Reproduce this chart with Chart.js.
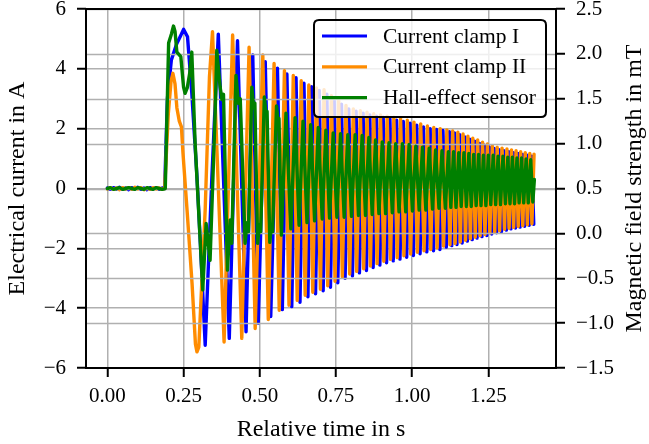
<!DOCTYPE html>
<html>
<head>
<meta charset="utf-8">
<script src="https://cdn.jsdelivr.net/npm/chart.js@4/dist/chart.umd.min.js"></script>
<style>html,body{margin:0;padding:0;background:#fff;}canvas{display:block;}</style>
</head>
<body>
<canvas id="c" width="649" height="444"></canvas>
<script>
// ---------- DATA ----------
const seriesLabels = ["Current clamp I", "Current clamp II", "Hall-effect sensor"];
const xTitle = "Relative time in s";
const yLeftTitle = "Electrical current in A";
const yRightTitle = "Magnetic field strength in mT";

const xTickValues = [0, 0.25, 0.5, 0.75, 1.0, 1.25];
const yLeftTickValues = [-6, -4, -2, 0, 2, 4, 6];
const yRightTickValues = [-1.5, -1.0, -0.5, 0, 0.5, 1.0, 1.5, 2.0, 2.5];

// Current clamp I (A) - time in s, extrema
const clamp1T = [0.000,0.010,0.020,0.030,0.040,0.050,0.060,0.070,0.080,0.090,0.100,0.110,0.120,0.130,0.140,0.150,0.160,0.170,0.180,0.188,
0.197,0.210,0.228,0.240,0.250,0.263,0.277,0.294,0.305,0.321,0.343,0.364,0.400,0.427,0.455,0.477,0.495,0.518,0.536,0.558,0.574,0.589,0.605,
0.619,0.632,0.645,0.658,0.670,0.683,0.695,0.708,0.720,0.732,0.744,0.756,0.768,0.780,0.792,0.804,0.816,0.827,0.839,0.850,0.861,0.872,
0.883,0.894,0.905,0.916,0.927,0.938,0.949,0.960,0.971,0.982,0.993,1.004,1.015,1.026,1.037,1.048,1.059,1.070,1.080,1.091,1.101,
1.112,1.122,1.130,1.139,1.147,1.156,1.164,1.173,1.181,1.189,1.197,1.205,1.213,1.221,1.229,1.237,1.245,1.253,1.261,1.269,1.277,
1.285,1.293,1.301,1.309,1.317,1.324,1.332,1.339,1.347,1.354,1.362,1.369,1.377,1.384,1.392,1.399];
const clamp1V = [0.02,-0.03,0.03,-0.02,0.04,-0.03,0.02,-0.04,0.03,-0.02,0.04,-0.03,0.02,-0.04,0.03,-0.02,0.03,-0.03,0.02,0.00,
3.00,4.30,4.85,5.10,5.32,5.07,3.20,0.40,-1.80,-5.24,0.39,5.16,-5.01,4.94,-4.79,4.46,-4.50,4.24,-4.28,4.02,-4.05,3.83,-3.95,
3.70,-3.80,3.52,-3.62,3.40,-3.52,3.28,-3.42,3.15,-3.30,2.98,-3.15,2.82,-3.00,2.66,-2.92,2.58,-2.82,2.52,-2.74,2.46,-2.64,
2.42,-2.56,2.38,-2.48,2.33,-2.42,2.28,-2.36,2.24,-2.30,2.18,-2.24,2.12,-2.18,2.06,-2.12,2.00,-2.08,1.97,-2.04,1.94,
-1.96,1.90,-1.91,1.86,-1.87,1.80,-1.82,1.72,-1.76,1.65,-1.71,1.58,-1.66,1.51,-1.61,1.45,-1.57,1.39,-1.52,1.34,-1.48,
1.30,-1.44,1.26,-1.39,1.23,-1.35,1.20,-1.32,1.17,-1.29,1.14,-1.26,1.11,-1.23,1.08,-1.20];

// Current clamp II (A)
const clamp2T = [0.000,0.010,0.020,0.030,0.040,0.050,0.060,0.070,0.080,0.090,0.100,0.110,0.120,0.130,0.140,0.150,0.160,0.170,0.180,0.188,
0.200,0.209,0.215,0.222,0.228,0.236,0.243,0.248,0.262,0.278,0.289,0.294,0.300,0.321,0.335,0.345,0.383,0.411,0.441,0.465,0.485,0.510,
0.528,0.547,0.564,0.581,0.596,0.610,0.623,0.636,0.649,0.661,0.674,0.686,0.699,0.711,0.723,0.735,0.747,0.759,0.771,0.783,0.795,0.807,
0.818,0.830,0.841,0.852,0.863,0.874,0.885,0.896,0.907,0.918,0.929,0.940,0.951,0.962,0.973,0.984,0.995,1.006,1.017,1.028,1.039,1.050,
1.061,1.071,1.082,1.092,1.103,1.114,1.124,1.133,1.141,1.150,1.158,1.167,1.175,1.183,1.191,1.199,1.207,1.215,1.223,1.231,1.239,
1.247,1.255,1.263,1.271,1.279,1.287,1.295,1.303,1.311,1.318,1.326,1.333,1.341,1.348,1.356,1.363,1.371,1.378,1.386,1.393,1.400];
const clamp2V = [-0.02,0.03,-0.03,0.02,-0.04,0.03,-0.02,0.03,-0.03,0.04,-0.02,0.03,-0.04,0.02,-0.03,0.03,-0.02,0.02,-0.03,0.00,
2.50,3.60,3.85,3.50,2.70,2.25,2.06,1.20,-0.80,-3.20,-5.20,-5.46,-5.30,-0.70,3.74,5.24,-5.13,5.13,-5.01,4.72,-4.68,4.46,
-4.38,4.18,-4.07,3.94,-3.90,3.78,-3.74,3.60,-3.57,3.46,-3.47,3.36,-3.37,3.30,-3.25,3.10,-3.10,2.95,-2.95,2.78,-2.86,2.66,
-2.77,2.60,-2.68,2.55,-2.59,2.50,-2.51,2.46,-2.43,2.42,-2.37,2.38,-2.31,2.34,-2.25,2.28,-2.19,2.22,-2.13,2.16,-2.08,2.09,
-2.04,2.04,-1.99,2.00,-1.92,1.96,-1.88,1.92,-1.84,1.88,-1.79,1.82,-1.73,1.75,-1.68,1.68,-1.63,1.62,-1.58,1.55,-1.54,
1.49,-1.49,1.43,-1.45,1.38,-1.41,1.35,-1.36,1.32,-1.33,1.29,-1.30,1.26,-1.27,1.23,-1.24,1.20,-1.21,1.17,-1.18,1.15];

// Hall-effect sensor (mT, right axis)
const hallT = [0.000,0.010,0.020,0.030,0.040,0.050,0.060,0.070,0.080,0.090,0.100,0.110,0.120,0.130,0.140,0.150,0.160,0.170,0.180,0.190,
0.201,0.210,0.217,0.222,0.228,0.241,0.250,0.255,0.262,0.270,0.277,0.288,0.305,0.313,0.324,0.337,0.354,0.359,0.370,0.376,0.381,
0.394,0.403,0.408,0.422,0.430,0.436,0.452,0.458,0.463,0.474,0.480,0.484,0.493,0.499,0.503,0.515,0.521,0.524,0.533,0.538,0.542,
0.555,0.560,0.563,0.571,0.586,0.602,0.616,0.629,0.642,0.655,0.667,0.680,0.692,0.705,0.717,0.729,0.741,0.753,0.765,0.777,0.789,
0.801,0.813,0.824,0.836,0.847,0.858,0.869,0.880,0.891,0.902,0.913,0.924,0.935,0.946,0.957,0.968,0.979,0.990,1.001,1.012,1.023,
1.034,1.045,1.056,1.067,1.077,1.088,1.098,1.109,1.119,1.127,1.136,1.144,1.153,1.161,1.170,1.178,1.186,1.194,1.202,1.210,1.218,
1.226,1.234,1.242,1.250,1.258,1.266,1.274,1.282,1.290,1.298,1.306,1.314,1.321,1.329,1.336,1.344,1.351,1.359,1.366,1.374,1.381,
1.389,1.396,1.401];
const hallV = [0.50,0.51,0.49,0.50,0.51,0.49,0.50,0.51,0.50,0.49,0.51,0.50,0.49,0.51,0.50,0.49,0.51,0.50,0.49,0.50,
2.12,2.22,2.31,2.25,2.02,1.97,1.63,1.56,1.62,1.78,2.02,1.00,-0.11,-0.63,0.11,-0.30,1.37,2.04,1.63,1.49,1.55,
-0.41,0.15,-0.11,1.76,1.45,1.50,-0.11,0.12,0.02,1.63,1.40,1.45,-0.11,0.10,0.02,1.52,1.32,1.36,-0.10,0.08,0.02,
1.42,1.25,1.28,-0.02,1.34,0.05,1.29,0.09,1.25,0.12,1.21,0.14,1.18,0.16,1.15,0.17,1.12,0.18,1.11,0.18,1.10,
0.19,1.10,0.20,1.09,0.20,1.07,0.21,1.04,0.22,1.02,0.22,1.01,0.23,1.00,0.24,1.00,0.24,0.99,0.25,0.97,0.26,
0.96,0.26,0.95,0.27,0.93,0.28,0.92,0.28,0.91,0.29,0.91,0.29,0.90,0.30,0.90,0.30,0.89,0.30,0.88,0.31,0.88,
0.31,0.87,0.31,0.87,0.32,0.87,0.32,0.86,0.32,0.86,0.33,0.85,0.33,0.85,0.33,0.84,0.34,0.84,0.34,0.83,0.34,
0.82,0.35,0.60];

const seriesColors = ["#0000ff", "#ff8c00", "#008000"];

// ---------- CHART ----------
function pts(t, v) { return t.map((x, i) => ({ x: x, y: v[i] })); }
const FONT = "'Liberation Serif', 'Times New Roman', serif";
const minusFmt = s => s.replace('-', '\u2212');
Chart.defaults.color = '#000';
Chart.defaults.font.family = FONT;

const gridCommon = { color: '#b0b0b0', lineWidth: 1.5, tickColor: '#000', tickLength: 9, tickWidth: 2 };

const overlayPlugin = {
  id: 'overlay',
  afterDatasetDraw(chart, args) {
    // right-axis grid sits above the current clamps but below the Hall sensor trace
    if (args.index !== 1) return;
    const ctx = chart.ctx, a = chart.chartArea, s = chart.scales.y2;
    ctx.save();
    ctx.beginPath(); ctx.rect(a.left, a.top, a.right - a.left, a.bottom - a.top); ctx.clip();
    ctx.strokeStyle = '#b0b0b0'; ctx.lineWidth = 1.5;
    s.ticks.forEach(t => {
      const y = Math.round(s.getPixelForValue(t.value)) + 0.5;
      ctx.beginPath(); ctx.moveTo(a.left, y); ctx.lineTo(a.right, y); ctx.stroke();
    });
    ctx.restore();
  },
  afterDatasetsDraw(chart) {
    const ctx = chart.ctx, a = chart.chartArea;
    ctx.save();
    ctx.strokeStyle = '#000'; ctx.lineWidth = 2;
    ctx.strokeRect(a.left, a.top, a.right - a.left, a.bottom - a.top);
    ctx.restore();
  },
  afterDraw(chart) {
    const ctx = chart.ctx, a = chart.chartArea;
    // right axis title, reading bottom-to-top
    ctx.save();
    ctx.translate(635, (a.top + a.bottom) / 2);
    ctx.rotate(-Math.PI / 2);
    ctx.font = '24px ' + FONT; ctx.fillStyle = '#000';
    ctx.textAlign = 'center'; ctx.textBaseline = 'middle';
    ctx.fillText(yRightTitle, 0, 0);
    ctx.restore();
    // legend
    const bx = a.right - 242, by = a.top + 11, bw = 232, bh = 97, r = 5;
    ctx.save();
    ctx.beginPath();
    ctx.moveTo(bx + r, by); ctx.lineTo(bx + bw - r, by); ctx.quadraticCurveTo(bx + bw, by, bx + bw, by + r);
    ctx.lineTo(bx + bw, by + bh - r); ctx.quadraticCurveTo(bx + bw, by + bh, bx + bw - r, by + bh);
    ctx.lineTo(bx + r, by + bh); ctx.quadraticCurveTo(bx, by + bh, bx, by + bh - r);
    ctx.lineTo(bx, by + r); ctx.quadraticCurveTo(bx, by, bx + r, by); ctx.closePath();
    ctx.fillStyle = 'rgba(255,255,255,0.8)'; ctx.fill();
    ctx.lineWidth = 2; ctx.strokeStyle = '#000'; ctx.stroke();
    ctx.font = '21.5px ' + FONT; ctx.textBaseline = 'middle'; ctx.textAlign = 'left'; ctx.fillStyle = '#000';
    chart.data.datasets.forEach((ds, i) => {
      const cy = by + 16 + i * 30.8;
      ctx.beginPath(); ctx.strokeStyle = ds.borderColor; ctx.lineWidth = 3.2;
      ctx.moveTo(bx + 8, cy); ctx.lineTo(bx + 53, cy); ctx.stroke();
      ctx.fillText(ds.label, bx + 69, cy + 1);
    });
    ctx.restore();
  }
};

new Chart(document.getElementById('c'), {
  type: 'line',
  data: {
    datasets: [
      { label: seriesLabels[0], data: pts(clamp1T, clamp1V), borderColor: seriesColors[0], yAxisID: 'y', order: 3 },
      { label: seriesLabels[1], data: pts(clamp2T, clamp2V), borderColor: seriesColors[1], yAxisID: 'y', order: 2 },
      { label: seriesLabels[2], data: pts(hallT, hallV), borderColor: seriesColors[2], yAxisID: 'y2', order: 1 }
    ].map(d => Object.assign(d, { borderWidth: 3.4, pointRadius: 0, tension: 0, fill: false, borderJoinStyle: 'round', borderCapStyle: 'round' }))
  },
  options: {
    responsive: false, animation: false, devicePixelRatio: 1, parsing: false,
    layout: { padding: { top: 9, left: 0, right: 0, bottom: 0 } },
    plugins: { legend: { display: false }, tooltip: { enabled: false } },
    scales: {
      x: {
        type: 'linear', position: 'bottom', min: -0.0701, max: 1.472,
        afterBuildTicks: s => { s.ticks = xTickValues.map(v => ({ value: v })); },
        afterFit: s => { s.height = 76; s.paddingLeft = 0; s.paddingRight = 0; },
        ticks: { font: { size: 21 }, color: '#000', padding: 7, maxRotation: 0, autoSkip: false,
                 callback: v => minusFmt(Number(v).toFixed(2)) },
        grid: Object.assign({}, gridCommon),
        border: { display: false },
        title: { display: true, text: xTitle, font: { size: 24 }, color: '#000', padding: { top: 0, bottom: 0 } }
      },
      y: {
        type: 'linear', position: 'left', min: -6, max: 6,
        afterBuildTicks: s => { s.ticks = yLeftTickValues.map(v => ({ value: v })); },
        afterFit: s => { s.width = 86; s.paddingTop = 0; s.paddingBottom = 0; },
        ticks: { font: { size: 21 }, color: '#000', padding: 11, callback: v => minusFmt(String(v)) },
        grid: Object.assign({}, gridCommon),
        border: { display: false },
        title: { display: true, text: yLeftTitle, font: { size: 24 }, color: '#000', padding: { top: 3.5, bottom: 0 } }
      },
      y2: {
        type: 'linear', position: 'right', min: -1.5, max: 2.5,
        afterBuildTicks: s => { s.ticks = yRightTickValues.map(v => ({ value: v })); },
        afterFit: s => { s.width = 93; s.paddingTop = 0; s.paddingBottom = 0; },
        ticks: { font: { size: 21 }, color: '#000', padding: 11, callback: v => minusFmt(Number(v).toFixed(1)) },
        grid: Object.assign({}, gridCommon, { drawOnChartArea: false }),
        border: { display: false },
        title: { display: false }
      }
    }
  },
  plugins: [overlayPlugin]
});
</script>
</body>
</html>
